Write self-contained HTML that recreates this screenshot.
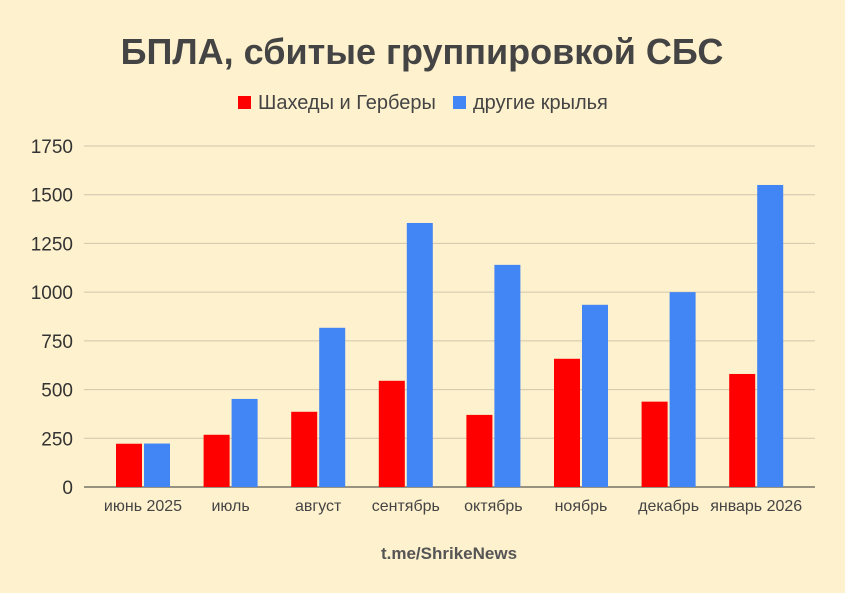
<!DOCTYPE html>
<html><head><meta charset="utf-8"><style>
body{margin:0;background:#fef1cd;}
svg{display:block;font-family:"Liberation Sans","DejaVu Sans",sans-serif;}
</style></head><body>
<svg id="chart" width="845" height="593">
<rect width="845" height="593" fill="#fef1cd"/>
<text x="422" y="64" text-anchor="middle" font-size="36" font-weight="bold" fill="#444">БПЛА, сбитые группировкой СБС</text>
<g>
<g><rect x="238" y="96" width="13" height="13" fill="#ff0000"/><text x="258" y="109" font-size="20" fill="#444">Шахеды и Герберы</text></g>
<g><rect x="453" y="96" width="13" height="13" fill="#4285f4"/><text x="473" y="109" font-size="20" fill="#444">другие крылья</text></g>
</g>
<g id="grid"></g><g id="bars"></g><g id="xl"></g>
<text x="449" y="559" text-anchor="middle" font-size="17" font-weight="bold" fill="#555">t.me/ShrikeNews</text>
</svg>
<script>
const categories=["июнь 2025","июль","август","сентябрь","октябрь","ноябрь","декабрь","январь 2026"];
const redValues=[222,268,386,545,370,658,438,580];
const blueValues=[223,452,817,1355,1140,935,1000,1550];
const yTicks=[0,250,500,750,1000,1250,1500,1750];
const NS="http://www.w3.org/2000/svg";
const y0=487,yTop=146,yMax=1750;
const y=v=>y0-(v/yMax)*(y0-yTop);
const xc=i=>143+87.6*i;
const grid=document.getElementById('grid'),bars=document.getElementById('bars'),xl=document.getElementById('xl');
function mk(t,a,p){const e=document.createElementNS(NS,t);for(const k in a)e.setAttribute(k,a[k]);p.appendChild(e);return e;}
yTicks.forEach(t=>{
 const l=mk('line',{x1:84,x2:815,y1:y(t),y2:y(t),stroke:t===0?'#333':'#cfc6ad','stroke-width':1},grid);
 
 
 const tx=mk('text',{x:73,y:y(t)+7,'text-anchor':'end','font-size':19,fill:'#333'},grid);
 tx.textContent=t;
 
 
});
categories.forEach((c,i)=>{
 const r=mk('rect',{x:xc(i)-27,y:y(redValues[i]),width:26,height:y0-y(redValues[i]),fill:'#ff0000'},bars);
 
 
 const b=mk('rect',{x:xc(i)+1,y:y(blueValues[i]),width:26,height:y0-y(blueValues[i]),fill:'#4285f4'},bars);
 
 
 const t=mk('text',{x:xc(i),y:511,'text-anchor':'middle','font-size':16,fill:'#444'},xl);
 t.textContent=c;
 
 
});
</script>
</body></html>
